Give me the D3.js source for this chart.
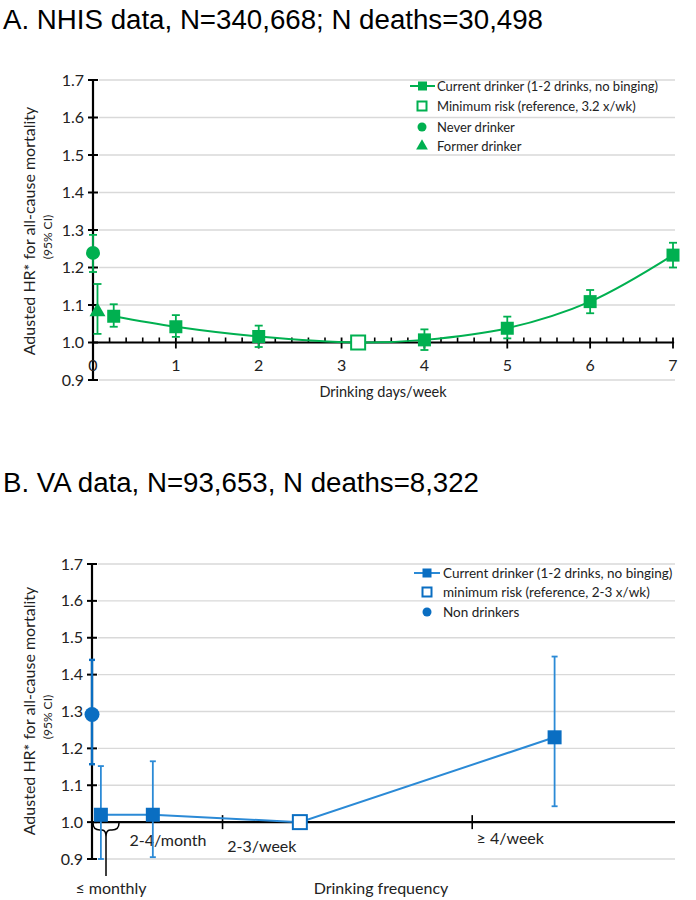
<!DOCTYPE html>
<html><head><meta charset="utf-8">
<script src="https://cdn.jsdelivr.net/npm/d3@7"></script>
<style>
body{margin:0;background:#fff;}
svg{display:block;font-family:Lato,"Open Sans",sans-serif;}
</style></head>
<body><svg id="c" width="696" height="900"></svg>
<script>
// ---------- Panel A data (NHIS) ----------
const aDays = [0.25, 1, 2, 3.2, 4, 5, 6, 7];
const aHR   = [1.07, 1.042, 1.016, 1.0, 1.007, 1.038, 1.109, 1.233];
const aLo   = [1.042, 1.015, 0.988, null, 0.98, 1.011, 1.078, 1.2];
const aHi   = [1.102, 1.073, 1.045, null, 1.035, 1.069, 1.14, 1.266];
const aRefIndex = 3;
const aNever  = {x: 0,    hr: 1.239, lo: 1.188, hi: 1.287};
const aFormer = {x: 0.03, hr: 1.082, lo: 1.023, hi: 1.156};
const aXTicks = [0, 1, 2, 3, 4, 5, 6, 7];
const yTicks  = [0.9, 1.0, 1.1, 1.2, 1.3, 1.4, 1.5, 1.6, 1.7];
const aLegend = ["Current drinker (1-2 drinks, no binging)", "Minimum risk (reference, 3.2 x/wk)", "Never drinker", "Former drinker"];

// ---------- Panel B data (VA) ----------
const bCats = ["≤ monthly", "2-4/month", "2-3/week", "≥ 4/week"];
const bPos  = [0.07, 0.48, 1.64, 3.65];
const bHR   = [1.02, 1.02, 1.0, 1.23];
const bLo   = [0.9, 0.905, null, 1.043];
const bHi   = [1.152, 1.165, null, 1.449];
const bRefIndex = 2;
const bNon  = {x: 0, hr: 1.292, lo: 1.157, hi: 1.44};
const bXTicks = [1.03, 3.0];
const bLabelPos = [null, 0.6, 1.34, 3.3];
const bLegend = ["Current drinker (1-2 drinks, no binging)", "minimum risk (reference, 2-3 x/wk)", "Non drinkers"];

const green = "#00b050";
const blueM = "#0a6ec2", blueL = "#2b8ad6";
const svg = d3.select("#c");

// titles
svg.append("text").attr("x",3).attr("y",29).attr("font-family","Liberation Sans, Arial, sans-serif")
  .attr("font-size",27).attr("textLength",540).attr("lengthAdjust","spacingAndGlyphs")
  .text("A. NHIS data, N=340,668; N deaths=30,498");
svg.append("text").attr("x",3).attr("y",492).attr("font-family","Liberation Sans, Arial, sans-serif")
  .attr("font-size",27).attr("textLength",476).attr("lengthAdjust","spacingAndGlyphs")
  .text("B. VA data, N=93,653, N deaths=8,322");

function yAxisBlock(y, x0, x1, cy){
  const g = svg.append("g");
  g.selectAll("line.grid").data(yTicks).join("line")
    .attr("x1",x0+6).attr("x2",x1).attr("y1",d=>y(d)).attr("y2",d=>y(d))
    .attr("stroke","#d9d9d9").attr("stroke-width",1.3);
  g.append("line").attr("x1",x0).attr("x2",x0).attr("y1",y(1.7)).attr("y2",y(0.9))
    .attr("stroke","#000").attr("stroke-width",2.2);
  g.selectAll("line.tk").data(yTicks).join("line")
    .attr("x1",x0-5).attr("x2",x0+5).attr("y1",d=>y(d)).attr("y2",d=>y(d))
    .attr("stroke","#000").attr("stroke-width",2);
  g.selectAll("text.tl").data(yTicks).join("text")
    .attr("x",x0-9).attr("y",d=>y(d)+5.5).attr("text-anchor","end")
    .attr("font-size",16).attr("fill","#222").text(d=>d.toFixed(1));
  g.append("text").attr("transform",`translate(35,${cy}) rotate(-90)`).attr("text-anchor","middle")
    .attr("font-size",16).attr("fill","#222").text("Adusted HR* for all-cause mortality");
  g.append("text").attr("transform",`translate(52,${cy+6}) rotate(-90)`).attr("text-anchor","middle")
    .attr("font-size",12).attr("fill","#222").text("(95% CI)");
}

// ---------- Panel A ----------
const xA = d3.scaleLinear().domain([0,7]).range([93,673]);
const yA = d3.scaleLinear().domain([0.9,1.7]).range([380,80]);
yAxisBlock(yA, 93, 675, 231);
svg.append("line").attr("x1",xA(0)).attr("x2",xA(7)+1).attr("y1",yA(1)).attr("y2",yA(1)).attr("stroke","#000").attr("stroke-width",2.2);
const minor = d3.range(0, 7.001, 0.2).filter(v => Math.abs(v-Math.round(v))>1e-6);
svg.selectAll("line.minA").data(minor).join("line")
  .attr("x1",d=>xA(d)).attr("x2",d=>xA(d)).attr("y1",yA(1)-5).attr("y2",yA(1))
  .attr("stroke","#000").attr("stroke-width",1.6);
svg.selectAll("line.majA").data(aXTicks.slice(1)).join("line")
  .attr("x1",d=>xA(d)).attr("x2",d=>xA(d)).attr("y1",yA(1)-5).attr("y2",yA(1)+6)
  .attr("stroke","#000").attr("stroke-width",1.8);
svg.selectAll("text.xlA").data(aXTicks).join("text")
  .attr("x",d=>xA(d)).attr("y",371).attr("text-anchor","middle").attr("font-size",16).attr("fill","#222").text(d=>d);
svg.append("text").attr("x",383).attr("y",397).attr("text-anchor","middle").attr("font-size",14.5).attr("fill","#222").text("Drinking days/week");

const ptsA = aDays.map((d,i)=>[xA(d), yA(aHR[i])]);
svg.append("path").attr("d", d3.line().curve(d3.curveCatmullRom.alpha(0.5))(ptsA))
  .attr("fill","none").attr("stroke",green).attr("stroke-width",2);
function errBar(g, x, lo, hi, y, color, cap, w){
  g.append("line").attr("x1",x).attr("x2",x).attr("y1",y(lo)).attr("y2",y(hi)).attr("stroke",color).attr("stroke-width",w);
  [lo,hi].forEach(v=>g.append("line").attr("x1",x-cap).attr("x2",x+cap).attr("y1",y(v)).attr("y2",y(v)).attr("stroke",color).attr("stroke-width",w));
}
const gA = svg.append("g");
aDays.forEach((d,i)=>{ if(aLo[i]!=null) errBar(gA, xA(d), aLo[i], aHi[i], yA, green, 4, 1.8); });
errBar(gA, xA(aNever.x), aNever.lo, aNever.hi, yA, green, 4, 1.8);
errBar(gA, xA(aFormer.x)+2, aFormer.lo, aFormer.hi, yA, green, 4, 1.8);
aDays.forEach((d,i)=>{
  if(i===aRefIndex){
    gA.append("rect").attr("x",xA(d)-7).attr("y",yA(aHR[i])-7).attr("width",14).attr("height",14)
      .attr("fill","#fff").attr("stroke",green).attr("stroke-width",2);
  } else {
    gA.append("rect").attr("x",xA(d)-6.5).attr("y",yA(aHR[i])-6.5).attr("width",13).attr("height",13).attr("fill",green);
  }
});
gA.append("circle").attr("cx",xA(aNever.x)).attr("cy",yA(aNever.hr)).attr("r",7).attr("fill",green);
gA.append("path").attr("d",d3.symbol(d3.symbolTriangle,110)()).attr("transform",`translate(${xA(aFormer.x)+2},${yA(aFormer.hr)})`).attr("fill",green);

const legAy = [86,106,127,146];
const lgA = svg.append("g");
lgA.append("line").attr("x1",410).attr("x2",435).attr("y1",legAy[0]).attr("y2",legAy[0]).attr("stroke",green).attr("stroke-width",2);
lgA.append("rect").attr("x",418).attr("y",legAy[0]-4.5).attr("width",9).attr("height",9).attr("fill",green);
lgA.append("rect").attr("x",417.5).attr("y",legAy[1]-4.5).attr("width",9).attr("height",9).attr("fill","#fff").attr("stroke",green).attr("stroke-width",2);
lgA.append("circle").attr("cx",422).attr("cy",legAy[2]).attr("r",4.5).attr("fill",green);
lgA.append("path").attr("d",d3.symbol(d3.symbolTriangle,60)()).attr("transform",`translate(422,${legAy[3]})`).attr("fill",green);
aLegend.forEach((t,i)=>lgA.append("text").attr("x",437).attr("y",legAy[i]+4.5).attr("font-size",13).attr("fill","#222").text(t));

// ---------- Panel B ----------
const xB = d3.scaleLinear().domain([0,4.6]).range([92,675]);
const yB = d3.scaleLinear().domain([0.9,1.7]).range([859,564]);
yAxisBlock(yB, 92, 675, 711);
svg.append("line").attr("x1",xB(0)).attr("x2",xB(4.6)).attr("y1",yB(1)).attr("y2",yB(1)).attr("stroke","#000").attr("stroke-width",2.2);
svg.selectAll("line.majB").data(bXTicks).join("line")
  .attr("x1",d=>xB(d)).attr("x2",d=>xB(d)).attr("y1",yB(1)-7).attr("y2",yB(1)+7)
  .attr("stroke","#000").attr("stroke-width",1.6);
bCats.forEach((c,i)=>{
  if(bLabelPos[i]==null) return;
  svg.append("text").attr("x",xB(bLabelPos[i])).attr("y",[0,846,852,844][i]).attr("text-anchor","middle")
    .attr("font-size",16).attr("fill","#222").text(c);
});
svg.append("text").attr("x",111).attr("y",894).attr("text-anchor","middle").attr("font-size",16).attr("fill","#222").text(bCats[0]);
svg.append("text").attr("x",381).attr("y",894).attr("text-anchor","middle").attr("font-size",16).attr("fill","#222").text("Drinking frequency");
svg.append("path").attr("d","M93,823 Q93,830 100,830 L102,830 Q106,830 106,837 Q106,830 110,830 L112,830 Q119,830 119,823 M106,837 L106,876")
  .attr("fill","none").attr("stroke","#000").attr("stroke-width",1.5);

const gB = svg.append("g");
gB.append("path").attr("d", d3.line()(bPos.map((p,i)=>[xB(p), yB(bHR[i])])))
  .attr("fill","none").attr("stroke",blueL).attr("stroke-width",2);
bPos.forEach((p,i)=>{ if(bLo[i]!=null) errBar(gB, xB(p), bLo[i], bHi[i], yB, blueL, 3, 1.8); });
errBar(gB, xB(bNon.x), bNon.lo, bNon.hi, yB, blueM, 3, 2.4);
bPos.forEach((p,i)=>{
  if(i===bRefIndex){
    gB.append("rect").attr("x",xB(p)-7).attr("y",yB(bHR[i])-7).attr("width",14).attr("height",14)
      .attr("fill","#fff").attr("stroke",blueM).attr("stroke-width",2);
  } else {
    gB.append("rect").attr("x",xB(p)-7).attr("y",yB(bHR[i])-7).attr("width",14).attr("height",14).attr("fill",blueM);
  }
});
gB.append("circle").attr("cx",xB(bNon.x)).attr("cy",yB(bNon.hr)).attr("r",7.5).attr("fill",blueM);

const legBy = [573,592,612];
const lgB = svg.append("g");
lgB.append("line").attr("x1",414).attr("x2",440).attr("y1",legBy[0]).attr("y2",legBy[0]).attr("stroke",blueL).attr("stroke-width",2);
lgB.append("rect").attr("x",422.5).attr("y",legBy[0]-4.5).attr("width",9).attr("height",9).attr("fill",blueM);
lgB.append("rect").attr("x",422.5).attr("y",legBy[1]-4.5).attr("width",9).attr("height",9).attr("fill","#fff").attr("stroke",blueM).attr("stroke-width",2);
lgB.append("circle").attr("cx",427).attr("cy",legBy[2]).attr("r",4.5).attr("fill",blueM);
bLegend.forEach((t,i)=>lgB.append("text").attr("x",443).attr("y",legBy[i]+4.5).attr("font-size",13.5).attr("fill","#222").text(t));
</script></body></html>
